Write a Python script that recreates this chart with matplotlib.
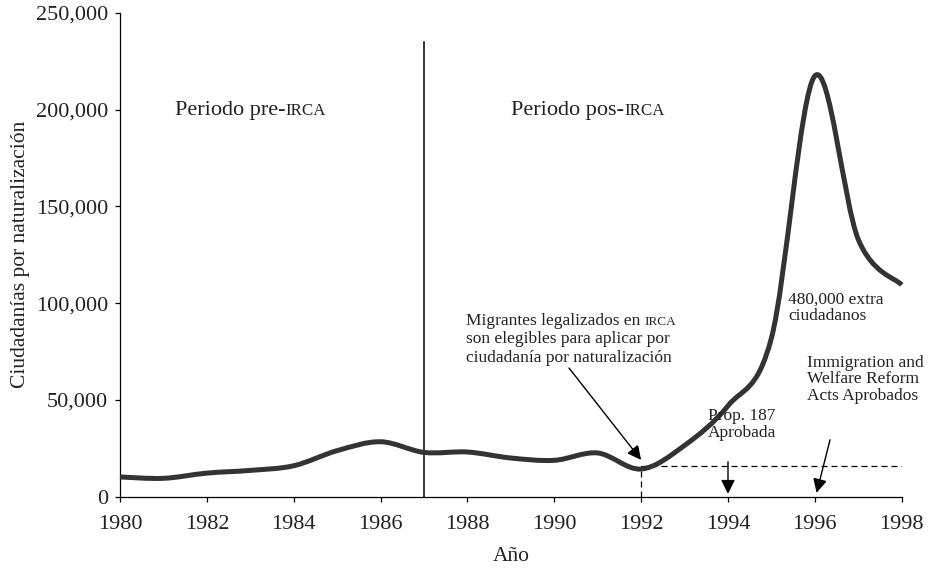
import matplotlib
matplotlib.use("Agg")
import matplotlib.pyplot as plt
from matplotlib.path import Path
from matplotlib.patches import PathPatch
from matplotlib.ticker import StrMethodFormatter
import numpy as np

# data (naturalizations per year)
years = [1980, 1981, 1982, 1983, 1984, 1985, 1986, 1987, 1988, 1989,
         1990, 1991, 1992, 1993, 1994, 1995, 1996, 1997, 1998]
citizens = [10200, 9500, 12200, 13600, 16000, 23800, 28400, 22900, 23100, 20000,
            18800, 22600, 14300, 26500, 47000, 82000, 217500, 133000, 109500]

irca_year = 1987
irca_line_top = 235000
eligible_year = 1992
eligible_level = 15700
prop187_year = 1994
welfare_year = 1996

x_ticks = list(range(1980, 1999, 2))
y_ticks = [0, 50000, 100000, 150000, 200000, 250000]

serif = "Liberation Serif"
plt.rcParams['font.family'] = serif
ink = "#222222"

fig = plt.figure(figsize=(9.32, 5.72), dpi=100)
ax = fig.add_axes([0.12876, 0.13164, 0.83873, 0.84563])


def smooth_path(xs, ys):
    # catmull-rom style smoothing (like Excel's smoothed line)
    pts = np.column_stack([xs, ys]).astype(float)
    ext = np.vstack([pts[0], pts, pts[-1]])
    verts = [pts[0]]
    codes = [Path.MOVETO]
    for i in range(1, len(ext) - 2):
        p0, p1, p2, p3 = ext[i - 1], ext[i], ext[i + 1], ext[i + 2]
        verts += [p1 + (p2 - p0) / 6, p2 - (p3 - p1) / 6, p2]
        codes += [Path.CURVE4] * 3
    return Path(verts, codes)


ax.add_patch(PathPatch(smooth_path(years, citizens), facecolor='none',
                       edgecolor='#333333', lw=3.6, capstyle='butt',
                       joinstyle='round', zorder=3, clip_on=False))

# IRCA divider
ax.plot([irca_year, irca_year], [0, irca_line_top], color='black', lw=1.1)

# dashed reference lines
ax.plot([eligible_year, years[-1]], [eligible_level, eligible_level],
        color='black', lw=0.9, dashes=(4.8, 3.2))
ax.plot([eligible_year, eligible_year], [0, eligible_level],
        color='black', lw=0.9, dashes=(4.8, 3.2))

ax.set_xlim(1980, 1998)
ax.set_ylim(0, 250000)
ax.set_xticks(x_ticks)
ax.set_yticks(y_ticks)
ax.yaxis.set_major_formatter(StrMethodFormatter('{x:,.0f}'))
for s in ['top', 'right']:
    ax.spines[s].set_visible(False)
for s in ['left', 'bottom']:
    ax.spines[s].set_linewidth(0.9)
ax.tick_params(axis='both', labelsize=16, colors='black', labelcolor=ink,
               width=0.9, length=3.5)
ax.tick_params(axis='x', pad=10)
ax.tick_params(axis='y', pad=5)

ax.set_ylabel("Ciudadanías por naturalización", fontsize=15.5, color=ink)
ax.yaxis.set_label_coords(-0.115, 0.5)
ax.set_xlabel("Año", fontsize=15.5, color=ink)
ax.xaxis.set_label_coords(0.5, -0.105)


def caps_text(x, y, normal, caps, size, gap=0.0):
    # fake small caps: normal part followed by a smaller all-caps part
    t = ax.text(x, y, normal, fontsize=size, va='baseline', ha='left', color=ink)
    ax.annotate(caps, xy=(1, y), xycoords=(t, 'data'), xytext=(gap, 0),
                textcoords='offset points', fontsize=size * 0.76,
                va='baseline', ha='left', color=ink)


caps_text(1981.27, 197300, "Periodo pre-", "IRCA", 16)
caps_text(1989.01, 197300, "Periodo pos-", "IRCA", 16)

note = 12.5
caps_text(1987.97, 88800, "Migrantes legalizados en", "IRCA", note, gap=3.2)
ax.text(1987.97, 79300, "son elegibles para aplicar por", fontsize=note,
        va='baseline', ha='left', color=ink)
ax.text(1987.97, 69800, "ciudadanía por naturalización", fontsize=note,
        va='baseline', ha='left', color=ink)

ax.text(1995.38, 91400, "480,000 extra\nciudadanos", fontsize=note,
        va='baseline', ha='left', color=ink, linespacing=1.05)
ax.text(1995.82, 50000, "Immigration and\nWelfare Reform\nActs Aprobados",
        fontsize=note, va='baseline', ha='left', color=ink, linespacing=1.05)
ax.text(1994.32, 31000, "Prop. 187\nAprobada", fontsize=note, va='baseline',
        ha='center', multialignment='center', color=ink, linespacing=1.05)

arrow = dict(arrowstyle='-|>', mutation_scale=21, color='black', lw=1.0,
             shrinkA=0, shrinkB=0)
ax.annotate("", xy=(eligible_year, 19000), xytext=(1990.34, 66500),
            arrowprops=arrow)
ax.annotate("", xy=(prop187_year, 1500), xytext=(prop187_year, 18100),
            arrowprops=arrow)
ax.annotate("", xy=(welfare_year + 0.04, 2000), xytext=(1996.35, 29400),
            arrowprops=arrow)

fig.savefig("out.png", dpi=100)
